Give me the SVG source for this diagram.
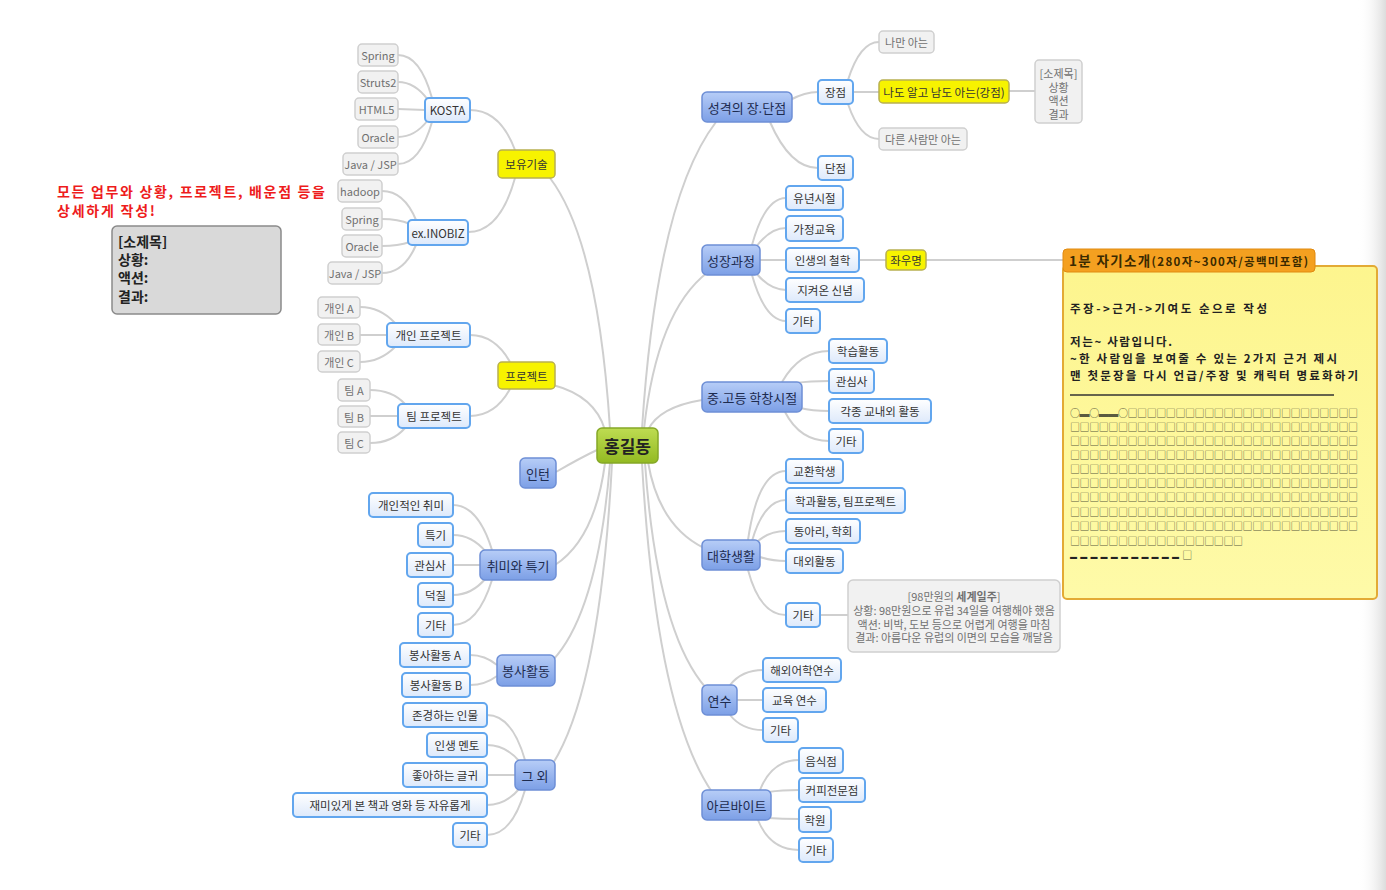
<svg xmlns="http://www.w3.org/2000/svg" width="1386" height="890" viewBox="0 0 1386 890">
<defs>
<linearGradient id="gMain" x1="0" y1="0" x2="0" y2="1"><stop offset="0" stop-color="#b7cdf7"/><stop offset="1" stop-color="#7c9fe6"/></linearGradient>
<linearGradient id="gSub" x1="0" y1="0" x2="0" y2="1"><stop offset="0" stop-color="#ffffff"/><stop offset="1" stop-color="#dde9fb"/></linearGradient>
<linearGradient id="gCen" x1="0" y1="0" x2="0" y2="1"><stop offset="0" stop-color="#bedc52"/><stop offset="1" stop-color="#93ba22"/></linearGradient>
<linearGradient id="gNote" x1="0" y1="0" x2="0" y2="1"><stop offset="0" stop-color="#fdf58e"/><stop offset="1" stop-color="#fefaa8"/></linearGradient>
<linearGradient id="gEdge" x1="0" y1="0" x2="1" y2="0"><stop offset="0" stop-color="#ffffff" stop-opacity="0"/><stop offset="1" stop-color="#dcdcdc"/></linearGradient>
<style>
text{font-family:"Noto Sans CJK KR","Noto Sans",sans-serif;text-anchor:middle;dominant-baseline:central}
.c{fill:none;stroke:#cfcfcf;stroke-width:2}
.main rect{fill:url(#gMain);stroke:#6e8fd6;stroke-width:1.5}
.main text{font-size:13px;fill:#1d2b4f}
.sub rect{fill:url(#gSub);stroke:#62a6ee;stroke-width:2}
.sub text{font-size:11.5px;fill:#333}
.leaf rect{fill:#f1f1f1;stroke:#cfcfcf;stroke-width:1.5}
.leaf text{font-size:11px;fill:#707070}
.yel rect{fill:#f7f300;stroke:#b8b050;stroke-width:1.5}
.yel text{font-size:11.5px;fill:#333}
.lt{text-anchor:start;dominant-baseline:auto}
</style>
</defs>
<rect width="1386" height="890" fill="#ffffff"/>
<rect x="1358" y="0" width="28" height="890" fill="url(#gEdge)"/>

<g id="connectors">
<path class="c" d="M642 429 Q657 199 716 122"/>
<path class="c" d="M644 429 Q657 311 708 272"/>
<path class="c" d="M648 430 Q659 407 702 400"/>
<path class="c" d="M648 462 Q659 526 704 548"/>
<path class="c" d="M645 463 Q657 632 706 688"/>
<path class="c" d="M642 463 Q656 710 712 792"/>
<path class="c" d="M610 429 Q598 241 550 178"/>
<path class="c" d="M605 430 Q595 396 553 385"/>
<path class="c" d="M597 450 Q580 458 556 472"/>
<path class="c" d="M605 463 Q595 539 555 565"/>
<path class="c" d="M610 463 Q598 611 553 660"/>
<path class="c" d="M612 463 Q600 690 552 765"/>
<path class="c" d="M790 100 Q805 92 818 92"/>
<path class="c" d="M770 122 Q790 168 818 168"/>
<path class="c" d="M848 80 Q860 42 879 42"/>
<path class="c" d="M853 92 L879 92"/>
<path class="c" d="M848 104 Q860 139 879 139"/>
<path class="c" d="M1009 91 L1035 91"/>
<path class="c" d="M752 245 Q765 198 786 198"/>
<path class="c" d="M756 247 Q770 228 786 228"/>
<path class="c" d="M760 260 L786 260"/>
<path class="c" d="M756 273 Q770 290 786 290"/>
<path class="c" d="M752 275 Q765 321 786 321"/>
<path class="c" d="M859 260 L886 260"/>
<path class="c" d="M926 260 L1063 260"/>
<path class="c" d="M782 382 Q800 351 829 351"/>
<path class="c" d="M796 383 Q810 381 829 381"/>
<path class="c" d="M800 408 Q812 411 829 411"/>
<path class="c" d="M785 412 Q800 441 829 441"/>
<path class="c" d="M748 540 Q758 471 786 471"/>
<path class="c" d="M752 541 Q764 500 786 500"/>
<path class="c" d="M756 543 Q768 531 786 531"/>
<path class="c" d="M760 557 Q772 561 786 561"/>
<path class="c" d="M748 570 Q760 615 786 615"/>
<path class="c" d="M820 615 L848 615"/>
<path class="c" d="M730 685 Q742 670 763 670"/>
<path class="c" d="M737 700 L763 700"/>
<path class="c" d="M730 715 Q742 730 763 730"/>
<path class="c" d="M760 790 Q772 760 799 760"/>
<path class="c" d="M768 792 Q782 790 799 790"/>
<path class="c" d="M768 818 Q782 819 799 819"/>
<path class="c" d="M758 820 Q770 850 799 850"/>
<path class="c" d="M515 150 Q500 110 470 110"/>
<path class="c" d="M515 178 Q500 232 468 232"/>
<path class="c" d="M432 98 Q420 55 398 55"/>
<path class="c" d="M428 100 Q415 82 398 82"/>
<path class="c" d="M425 110 L398 109"/>
<path class="c" d="M428 120 Q415 137 398 137"/>
<path class="c" d="M432 122 Q420 164 398 164"/>
<path class="c" d="M416 220 Q404 191 382 191"/>
<path class="c" d="M410 224 Q398 219 382 219"/>
<path class="c" d="M410 242 Q398 246 382 246"/>
<path class="c" d="M416 245 Q404 273 382 273"/>
<path class="c" d="M510 362 Q495 335 470 335"/>
<path class="c" d="M510 389 Q495 416 470 416"/>
<path class="c" d="M395 323 Q380 307 360 307"/>
<path class="c" d="M387 335 L360 335"/>
<path class="c" d="M395 347 Q380 362 360 362"/>
<path class="c" d="M405 404 Q392 390 370 390"/>
<path class="c" d="M398 416 L370 416"/>
<path class="c" d="M405 428 Q392 443 370 443"/>
<path class="c" d="M492 550 Q478 505 453 505"/>
<path class="c" d="M486 552 Q472 535 453 535"/>
<path class="c" d="M480 565 L453 565"/>
<path class="c" d="M486 578 Q472 595 453 595"/>
<path class="c" d="M492 580 Q478 625 453 625"/>
<path class="c" d="M497 665 Q485 655 470 655"/>
<path class="c" d="M497 676 Q485 685 470 685"/>
<path class="c" d="M525 760 Q512 715 487 715"/>
<path class="c" d="M520 762 Q506 745 487 745"/>
<path class="c" d="M515 775 L487 775"/>
<path class="c" d="M520 788 Q506 805 487 805"/>
<path class="c" d="M525 790 Q512 835 487 835"/>
</g>

<g id="center"><rect x="597" y="428" width="61" height="35" rx="5" fill="url(#gCen)" stroke="#85a827" stroke-width="1.5"/><text x="627.5" y="445.5" font-size="17" font-weight="bold" fill="#222">홍길동</text></g>

<!-- right main -->
<g id="n-personality" class="main"><rect x="702" y="92" width="90" height="30" rx="5"/><text x="747" y="107">성격의 장.단점</text></g>
<g id="n-growth" class="main"><rect x="702" y="245" width="58" height="30" rx="5"/><text x="731" y="260">성장과정</text></g>
<g id="n-school" class="main"><rect x="702" y="382" width="100" height="30" rx="5"/><text x="752" y="397">중.고등 학창시절</text></g>
<g id="n-univ" class="main"><rect x="702" y="540" width="58" height="30" rx="5"/><text x="731" y="555">대학생활</text></g>
<g id="n-training" class="main"><rect x="702" y="685" width="35" height="30" rx="5"/><text x="719.5" y="700">연수</text></g>
<g id="n-parttime" class="main"><rect x="702" y="790" width="69" height="30" rx="5"/><text x="736.5" y="805">아르바이트</text></g>

<!-- left main -->
<g id="n-skills" class="yel"><rect x="498" y="150" width="57" height="28" rx="4"/><text x="526.5" y="164" font-size="13">보유기술</text></g>
<g id="n-project" class="yel"><rect x="498" y="362" width="57" height="27" rx="4"/><text x="526.5" y="375.5" font-size="13">프로젝트</text></g>
<g id="n-intern" class="main"><rect x="520" y="458" width="36" height="30" rx="5"/><text x="538" y="473">인턴</text></g>
<g id="n-hobby" class="main"><rect x="480" y="550" width="76" height="30" rx="5"/><text x="518" y="565">취미와 특기</text></g>
<g id="n-volunteer" class="main"><rect x="497" y="655" width="58" height="31" rx="5"/><text x="526" y="670.5">봉사활동</text></g>
<g id="n-etc" class="main"><rect x="515" y="760" width="40" height="30" rx="5"/><text x="535" y="775">그 외</text></g>

<!-- personality -->
<g id="n-strength" class="sub"><rect x="818" y="80" width="35" height="24" rx="4"/><text x="835.5" y="92">장점</text></g>
<g id="n-weakness" class="sub"><rect x="818" y="156" width="35" height="24" rx="4"/><text x="835.5" y="168">단점</text></g>
<g id="n-onlyme" class="leaf"><rect x="879" y="31" width="55" height="22" rx="4"/><text x="906.5" y="42">나만 아는</text></g>
<g id="n-both" class="yel"><rect x="879" y="80" width="130" height="23" rx="4"/><text x="944" y="91.5">나도 알고 남도 아는(강점)</text></g>
<g id="n-others" class="leaf"><rect x="879" y="128" width="88" height="22" rx="4"/><text x="923" y="139">다른 사람만 아는</text></g>
<g id="n-subtitle" class="leaf"><rect x="1035" y="60" width="47" height="63" rx="4"/><text x="1058.5" y="73" font-size="10.5">[소제목]</text><text x="1058.5" y="86.5" font-size="10.5">상황</text><text x="1058.5" y="100" font-size="10.5">액션</text><text x="1058.5" y="113.5" font-size="10.5">결과</text></g>

<!-- growth -->
<g id="n-child" class="sub"><rect x="786" y="186" width="57" height="24" rx="4"/><text x="814.5" y="198">유년시절</text></g>
<g id="n-family" class="sub"><rect x="786" y="216" width="57" height="25" rx="4"/><text x="814.5" y="228.5">가정교육</text></g>
<g id="n-philo" class="sub"><rect x="786" y="248" width="73" height="24" rx="4"/><text x="822.5" y="260">인생의 철학</text></g>
<g id="n-belief" class="sub"><rect x="786" y="278" width="78" height="24" rx="4"/><text x="825" y="290">지켜온 신념</text></g>
<g id="n-growth-etc" class="sub"><rect x="786" y="309" width="34" height="24" rx="4"/><text x="803" y="321">기타</text></g>
<g id="n-motto" class="yel"><rect x="886" y="250" width="40" height="20" rx="4"/><text x="906" y="260" font-size="10.5">좌우명</text></g>

<!-- school -->
<g id="n-study" class="sub"><rect x="829" y="339" width="58" height="24" rx="4"/><text x="858" y="351">학습활동</text></g>
<g id="n-interest2" class="sub"><rect x="829" y="369" width="45" height="24" rx="4"/><text x="851.5" y="381">관심사</text></g>
<g id="n-activities" class="sub"><rect x="829" y="399" width="102" height="24" rx="4"/><text x="880" y="411">각종 교내외 활동</text></g>
<g id="n-school-etc" class="sub"><rect x="829" y="429" width="34" height="24" rx="4"/><text x="846" y="441">기타</text></g>

<!-- univ -->
<g id="n-exchange" class="sub"><rect x="786" y="459" width="57" height="24" rx="4"/><text x="814.5" y="471">교환학생</text></g>
<g id="n-dept" class="sub"><rect x="786" y="488" width="119" height="25" rx="4"/><text x="845.5" y="500.5">학과활동, 팀프로젝트</text></g>
<g id="n-club" class="sub"><rect x="786" y="519" width="74" height="24" rx="4"/><text x="823" y="531">동아리, 학회</text></g>
<g id="n-external" class="sub"><rect x="786" y="549" width="57" height="24" rx="4"/><text x="814.5" y="561">대외활동</text></g>
<g id="n-univ-etc" class="sub"><rect x="786" y="603" width="34" height="24" rx="4"/><text x="803" y="615">기타</text></g>
<g id="n-trip" class="leaf"><rect x="848" y="580" width="212" height="72" rx="5"/><text x="954" y="596" font-size="10.5" fill="#555">[98만원의 <tspan font-weight="bold">세계일주</tspan>]</text><text x="954" y="610" font-size="10">상황: 98만원으로 유럽 34일을 여행해야 했음</text><text x="954" y="623.5" font-size="10">액션: 비박, 도보 등으로 어렵게 여행을 마침</text><text x="954" y="637" font-size="10">결과: 아름다운 유럽의 이면의 모습을 깨달음</text></g>

<!-- training -->
<g id="n-abroad" class="sub"><rect x="763" y="658" width="78" height="24" rx="4"/><text x="802" y="670">해외어학연수</text></g>
<g id="n-edu" class="sub"><rect x="763" y="688" width="63" height="24" rx="4"/><text x="794.5" y="700">교육 연수</text></g>
<g id="n-training-etc" class="sub"><rect x="763" y="718" width="35" height="24" rx="4"/><text x="780.5" y="730">기타</text></g>

<!-- parttime -->
<g id="n-restaurant" class="sub"><rect x="799" y="748" width="44" height="25" rx="4"/><text x="821" y="760.5">음식점</text></g>
<g id="n-coffee" class="sub"><rect x="799" y="778" width="66" height="24" rx="4"/><text x="832" y="790">커피전문점</text></g>
<g id="n-academy" class="sub"><rect x="799" y="807" width="32" height="25" rx="4"/><text x="815" y="819.5">학원</text></g>
<g id="n-part-etc" class="sub"><rect x="799" y="838" width="34" height="24" rx="4"/><text x="816" y="850">기타</text></g>

<!-- skills -->
<g id="n-kosta" class="sub"><rect x="425" y="98" width="45" height="24" rx="4"/><text x="447.5" y="110">KOSTA</text></g>
<g id="n-exinobiz" class="sub"><rect x="408" y="220" width="60" height="25" rx="4"/><text x="438" y="232.5">ex.INOBIZ</text></g>
<g id="n-k-spring" class="leaf"><rect x="358" y="44" width="40" height="22" rx="4"/><text x="378" y="55">Spring</text></g>
<g id="n-k-struts" class="leaf"><rect x="358" y="71" width="40" height="22" rx="4"/><text x="378" y="82">Struts2</text></g>
<g id="n-k-html" class="leaf"><rect x="355" y="98" width="43" height="22" rx="4"/><text x="376.5" y="109">HTML5</text></g>
<g id="n-k-oracle" class="leaf"><rect x="358" y="126" width="40" height="22" rx="4"/><text x="378" y="137">Oracle</text></g>
<g id="n-k-java" class="leaf"><rect x="343" y="153" width="55" height="22" rx="4"/><text x="370.5" y="164">Java / JSP</text></g>
<g id="n-e-hadoop" class="leaf"><rect x="338" y="180" width="44" height="22" rx="4"/><text x="360" y="191">hadoop</text></g>
<g id="n-e-spring" class="leaf"><rect x="342" y="208" width="40" height="22" rx="4"/><text x="362" y="219">Spring</text></g>
<g id="n-e-oracle" class="leaf"><rect x="342" y="235" width="40" height="22" rx="4"/><text x="362" y="246">Oracle</text></g>
<g id="n-e-java" class="leaf"><rect x="328" y="262" width="54" height="22" rx="4"/><text x="355" y="273">Java / JSP</text></g>

<!-- project -->
<g id="n-personal" class="sub"><rect x="387" y="323" width="83" height="24" rx="4"/><text x="428.5" y="335">개인 프로젝트</text></g>
<g id="n-team" class="sub"><rect x="398" y="404" width="72" height="24" rx="4"/><text x="434" y="416">팀 프로젝트</text></g>
<g id="n-pa" class="leaf"><rect x="318" y="297" width="42" height="21" rx="4"/><text x="339" y="307.5">개인 A</text></g>
<g id="n-pb" class="leaf"><rect x="318" y="324" width="42" height="21" rx="4"/><text x="339" y="334.5">개인 B</text></g>
<g id="n-pc" class="leaf"><rect x="318" y="351" width="42" height="21" rx="4"/><text x="339" y="361.5">개인 C</text></g>
<g id="n-ta" class="leaf"><rect x="338" y="379" width="32" height="22" rx="4"/><text x="354" y="390">팀 A</text></g>
<g id="n-tb" class="leaf"><rect x="338" y="406" width="32" height="21" rx="4"/><text x="354" y="416.5">팀 B</text></g>
<g id="n-tc" class="leaf"><rect x="338" y="432" width="32" height="21" rx="4"/><text x="354" y="442.5">팀 C</text></g>

<!-- hobby -->
<g id="n-personal-hobby" class="sub"><rect x="369" y="493" width="84" height="24" rx="4"/><text x="411" y="505">개인적인 취미</text></g>
<g id="n-talent" class="sub"><rect x="418" y="523" width="35" height="24" rx="4"/><text x="435.5" y="535">특기</text></g>
<g id="n-interest" class="sub"><rect x="407" y="553" width="46" height="24" rx="4"/><text x="430" y="565">관심사</text></g>
<g id="n-fandom" class="sub"><rect x="418" y="583" width="35" height="24" rx="4"/><text x="435.5" y="595">덕질</text></g>
<g id="n-hobby-etc" class="sub"><rect x="418" y="613" width="35" height="24" rx="4"/><text x="435.5" y="625">기타</text></g>

<!-- volunteer -->
<g id="n-va" class="sub"><rect x="400" y="643" width="70" height="24" rx="4"/><text x="435" y="655">봉사활동 A</text></g>
<g id="n-vb" class="sub"><rect x="402" y="673" width="68" height="24" rx="4"/><text x="436" y="685">봉사활동 B</text></g>

<!-- etc -->
<g id="n-respect" class="sub"><rect x="403" y="703" width="84" height="24" rx="4"/><text x="445" y="715">존경하는 인물</text></g>
<g id="n-mentor" class="sub"><rect x="427" y="733" width="60" height="24" rx="4"/><text x="457" y="745">인생 멘토</text></g>
<g id="n-quote" class="sub"><rect x="403" y="763" width="84" height="24" rx="4"/><text x="445" y="775">좋아하는 글귀</text></g>
<g id="n-books" class="sub"><rect x="293" y="793" width="194" height="24" rx="4"/><text x="390" y="805">재미있게 본 책과 영화 등 자유롭게</text></g>
<g id="n-etc-etc" class="sub"><rect x="453" y="823" width="34" height="24" rx="4"/><text x="470" y="835">기타</text></g>

<!-- red note -->
<g id="red-note" fill="#ee1c1c" font-size="14" font-weight="bold">
<text class="lt" x="57" y="197" textLength="268" lengthAdjust="spacing">모든 업무와 상황, 프로젝트, 배운점 등을</text>
<text class="lt" x="57" y="216" textLength="98" lengthAdjust="spacing">상세하게 작성!</text>
</g>
<g id="template-box"><rect x="112" y="226" width="169" height="88" rx="5" fill="#d9d9d9" stroke="#8a8a8a" stroke-width="1.5"/>
<text class="lt" x="118" y="247" font-size="14" font-weight="bold" fill="#222">[소제목]</text>
<text class="lt" x="118" y="265" font-size="14" font-weight="bold" fill="#222">상황:</text>
<text class="lt" x="118" y="283" font-size="14" font-weight="bold" fill="#222">액션:</text>
<text class="lt" x="118" y="302" font-size="14" font-weight="bold" fill="#222">결과:</text>
</g>

<!-- callout -->
<g id="callout">
<rect x="1063" y="266" width="314" height="333" rx="4" fill="url(#gNote)" stroke="#e3aa35" stroke-width="2"/>
<rect x="1063" y="249" width="252" height="23" rx="4" fill="#f4a020" stroke="#e08a10" stroke-width="1"/>
<text class="lt" x="1069" y="266" font-size="13.5" font-weight="bold" fill="#3a2a00" textLength="239" lengthAdjust="spacing">1분 자기소개<tspan font-size="11.5">(280자~300자/공백미포함)</tspan></text>
<g font-size="11.5" font-weight="bold" fill="#222">
<text class="lt" x="1070" y="313" textLength="197" lengthAdjust="spacing">주장-&gt;근거-&gt;기여도 순으로 작성</text>
<text class="lt" x="1070" y="346" textLength="102" lengthAdjust="spacing">저는~ 사람입니다.</text>
<text class="lt" x="1070" y="363" textLength="267" lengthAdjust="spacing">~한 사람임을 보여줄 수 있는 2가지 근거 제시</text>
<text class="lt" x="1070" y="380" textLength="288" lengthAdjust="spacing">맨 첫문장을 다시 언급/주장 및 캐릭터 명료화하기</text>
</g>
<line x1="1070" y1="395" x2="1334" y2="395" stroke="#333" stroke-width="1.5"/>
<g font-size="10" fill="#5a5a40" font-family="DejaVu Sans, sans-serif">
<text class="lt" x="1070" y="417" textLength="288" lengthAdjust="spacing">○▬○▬▬○□□□□□□□□□□□□□□□□□□□□□□□□</text>
<text class="lt" x="1070" y="431" textLength="288" lengthAdjust="spacing">□□□□□□□□□□□□□□□□□□□□□□□□□□□□□□</text>
<text class="lt" x="1070" y="445" textLength="288" lengthAdjust="spacing">□□□□□□□□□□□□□□□□□□□□□□□□□□□□□□</text>
<text class="lt" x="1070" y="459" textLength="288" lengthAdjust="spacing">□□□□□□□□□□□□□□□□□□□□□□□□□□□□□□</text>
<text class="lt" x="1070" y="473" textLength="288" lengthAdjust="spacing">□□□□□□□□□□□□□□□□□□□□□□□□□□□□□□</text>
<text class="lt" x="1070" y="487" textLength="288" lengthAdjust="spacing">□□□□□□□□□□□□□□□□□□□□□□□□□□□□□□</text>
<text class="lt" x="1070" y="501" textLength="288" lengthAdjust="spacing">□□□□□□□□□□□□□□□□□□□□□□□□□□□□□□</text>
<text class="lt" x="1070" y="516" textLength="288" lengthAdjust="spacing">□□□□□□□□□□□□□□□□□□□□□□□□□□□□□□</text>
<text class="lt" x="1070" y="530" textLength="288" lengthAdjust="spacing">□□□□□□□□□□□□□□□□□□□□□□□□□□□□□□</text>
<text class="lt" x="1070" y="545" textLength="173" lengthAdjust="spacing">□□□□□□□□□□□□□□□□□□</text>
<text class="lt" x="1070" y="559" font-size="7" letter-spacing="3.2" fill="#222">▬▬▬▬▬▬▬▬▬▬▬<tspan font-size="10" fill="#5a5a40">□</tspan></text>
</g>
</g>
</svg>
